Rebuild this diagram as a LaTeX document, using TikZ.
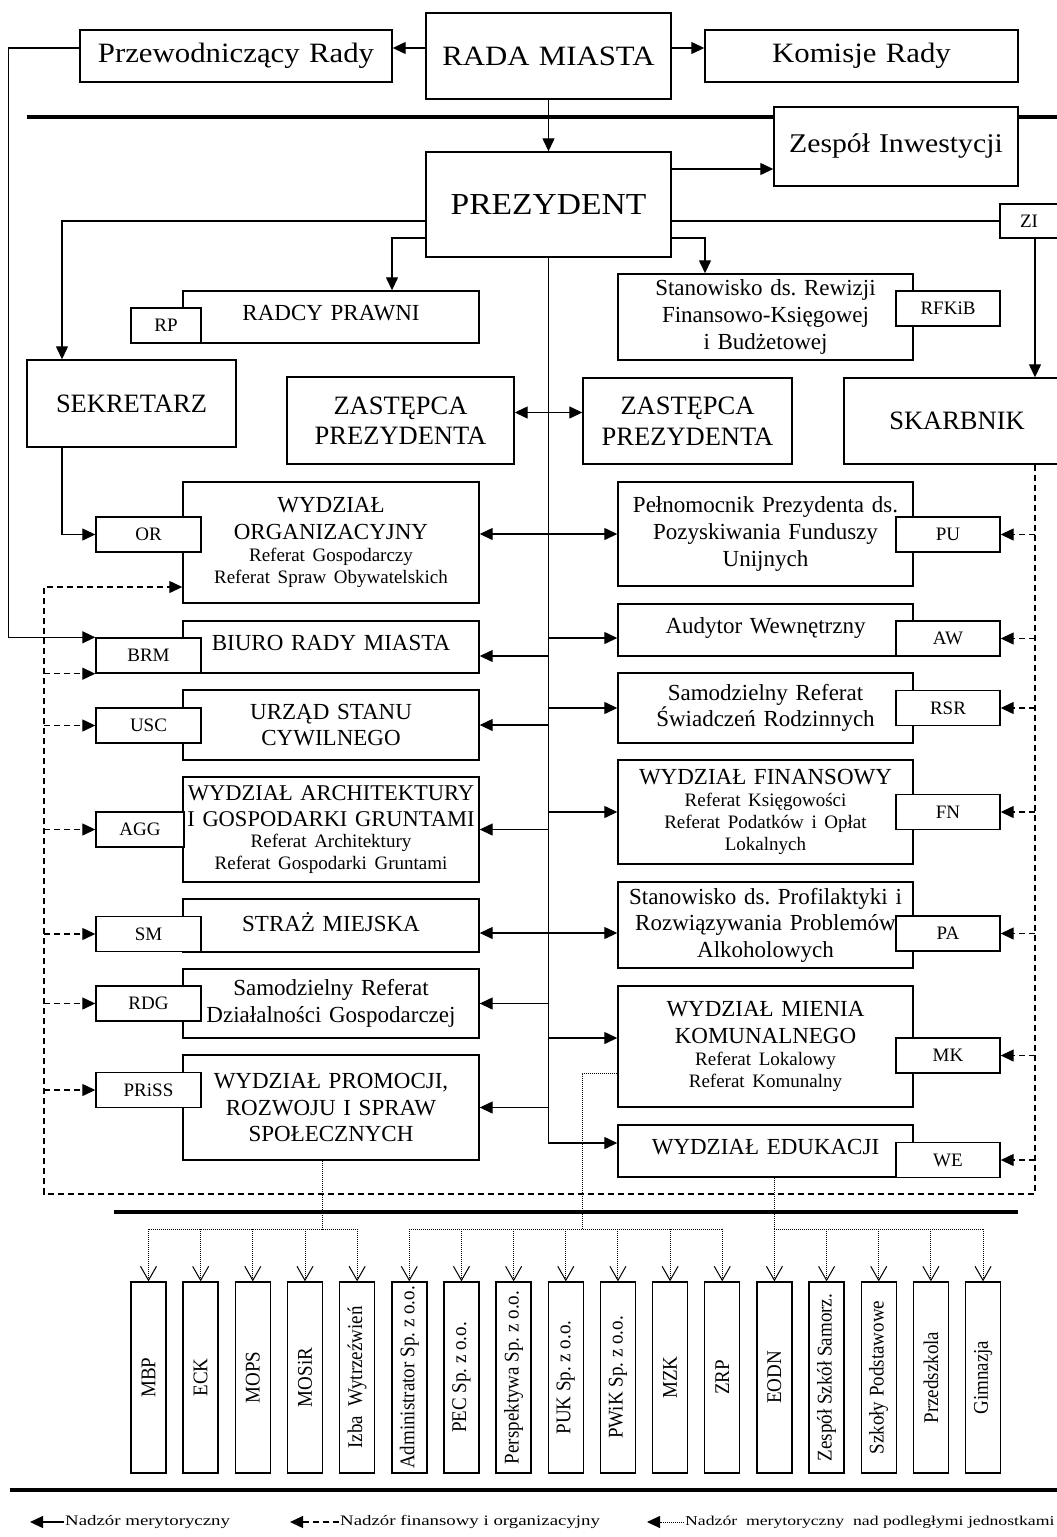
\documentclass[tikz,border=0pt]{standalone}
\usepackage{fontspec}
\setmainfont{Liberation Serif}
\newfontfamily\widefont[FakeStretch=1.1]{Liberation Serif}
\newfontfamily\legendfont[FakeStretch=1.3]{Liberation Serif}
\usetikzlibrary{arrows.meta}
\newcommand{\sizetop}{\widefont\fontsize{28}{32}\selectfont}
\newcommand{\sizebig}{\fontsize{26.5}{30.5}\selectfont}
\newcommand{\sizemid}{\fontsize{23}{26.6}\selectfont}
\newcommand{\sizesub}{\fontsize{19}{21.8}\selectfont}
\newcommand{\sizeleg}{\legendfont\fontsize{14.5}{17}\selectfont}
\frenchspacing

\begin{document}
\begin{tikzpicture}[x=1pt, y=-1pt, >={Triangle[length=13pt,width=12pt]},
  box/.style={draw, line width=1.4pt, fill=white, align=center, inner sep=1pt},
  tagbox/.style={box, font=\sizesub, minimum width=105pt, minimum height=35pt, inner sep=0pt},
  unitbox/.style={draw, line width=1.4pt, fill=white, font=\sizesub, minimum width=35pt, minimum height=191pt, inner sep=0pt},
  upper/.style={text depth=8pt},
  link/.style={line width=1.3pt},
  finlink/.style={line width=1.3pt, dash pattern=on 6pt off 4pt},
  sublink/.style={line width=0.9pt, dash pattern=on 1pt off 1pt}]
\useasboundingbox (0,0) rectangle (1057,1537);

% rada miasta
\node[box, font=\sizetop, text width=310pt, minimum height=52pt] (przew) at (236,56) {Przewodniczący Rady};
\node[box, font=\sizetop, text width=243pt, minimum height=86pt] (rada) at (548.5,56) {RADA MIASTA};
\node[box, font=\sizetop, text width=311pt, minimum height=52pt] (komisje) at (861.5,56) {Komisje Rady};
\draw[line width=4.6pt] (27,117) -- (1060,117);

% prezydent
\node[box, font={\widefont\fontsize{30.5}{34}\selectfont}, text width=243pt, minimum height=105pt] (prez) at (548.5,204.5) {PREZYDENT};
\node[box, font={\widefont\fontsize{27}{31}\selectfont}, text width=242pt, minimum height=79pt] (zespol) at (896,146.5) {Zespół Inwestycji};
\node[box, font=\sizesub, minimum width=58pt, minimum height=34pt, inner sep=0pt] (zi) at (1029,221) {ZI};
\node[box, font=\sizemid, upper, text width=294pt, minimum height=52pt] (radcy) at (331,317) {RADCY PRAWNI};
\node[box, font=\sizemid, text width=293pt, minimum height=86pt] (stanrew) at (765.5,317)
  {Stanowisko ds. Rewizji\\Finansowo-Księgowej\\i Budżetowej};
\node[box, font=\sizebig, text width=207pt, minimum height=87pt] (sekr) at (131.5,403.5) {SEKRETARZ};
\node[box, font=\sizebig, text width=225pt, minimum height=87pt] (zastl) at (400.5,420.5) {ZASTĘPCA\\PREZYDENTA};
\node[box, font=\sizebig, text width=207pt, minimum height=86pt] (zastr) at (687.5,421) {ZASTĘPCA\\PREZYDENTA};
\node[box, font=\sizebig, text width=224pt, minimum height=86pt] (skarb) at (957,421) {SKARBNIK};

% wydzialy, lewa kolumna
\node[box, font=\sizemid, text width=294pt, minimum height=121pt] (wor) at (331,542.5)
  {WYDZIAŁ\\ORGANIZACYJNY\par\sizesub Referat Gospodarczy\\Referat Spraw Obywatelskich\par};
\node[box, font=\sizemid, upper, text width=294pt, minimum height=52pt] (biuro) at (331,647) {BIURO RADY MIASTA};
\node[box, font=\sizemid, text width=294pt, minimum height=70pt] (urzad) at (331,725) {URZĄD STANU\\CYWILNEGO};
\node[box, font=\sizemid, text width=294pt, minimum height=105pt] (arch) at (331,829.5)
  {\fontsize{22.5}{26}\selectfont WYDZIAŁ ARCHITEKTURY\\I GOSPODARKI GRUNTAMI\par\sizesub Referat Architektury\\Referat Gospodarki Gruntami\par};
\node[box, font=\sizemid, upper, text width=294pt, minimum height=53pt] (straz) at (331,925.5) {STRAŻ MIEJSKA};
\node[box, font=\sizemid, text width=294pt, minimum height=69pt] (rdgm) at (331,1003.5)
  {Samodzielny Referat\\Działalności Gospodarczej};
\node[box, font=\sizemid, text width=294pt, minimum height=105pt] (prom) at (331,1107.5)
  {WYDZIAŁ PROMOCJI,\\ROZWOJU I SPRAW\\SPOŁECZNYCH};

% wydzialy, prawa kolumna
\node[box, font=\sizemid, text width=293pt, minimum height=104pt] (pel) at (765.5,534)
  {Pełnomocnik Prezydenta ds.\\Pozyskiwania Funduszy\\Unijnych};
\node[box, font=\sizemid, upper, text width=293pt, minimum height=52pt] (audyt) at (765.5,630) {Audytor Wewnętrzny};
\node[box, font=\sizemid, text width=293pt, minimum height=70pt] (swr) at (765.5,708)
  {Samodzielny Referat\\Świadczeń Rodzinnych};
\node[box, font=\sizemid, text width=293pt, minimum height=104pt] (fin) at (765.5,812)
  {WYDZIAŁ FINANSOWY\par\sizesub Referat Księgowości\\Referat Podatków i Opłat\\Lokalnych\par};
\node[box, font=\sizemid, text width=293pt, minimum height=86pt] (prof) at (765.5,925)
  {Stanowisko ds. Profilaktyki i\\Rozwiązywania Problemów\\Alkoholowych};
\node[box, font=\sizemid, text width=293pt, minimum height=121pt] (mien) at (765.5,1046.5)
  {WYDZIAŁ MIENIA\\KOMUNALNEGO\par\sizesub Referat Lokalowy\\Referat Komunalny\par};
\node[box, font=\sizemid, upper, text width=293pt, minimum height=52pt] (wedu) at (765.5,1151) {WYDZIAŁ EDUKACJI};

% symbole
\node[tagbox, minimum width=70pt] (rp) at (166,325.5) {RP};
\node[tagbox, minimum width=104pt] (rfkib) at (948,308.5) {RFKiB};
\node[tagbox] (or) at (148.5,534.5) {OR};
\node[tagbox] (brm) at (148.5,655.5) {BRM};
\node[tagbox] (usc) at (148.5,725.5) {USC};
\node[tagbox, minimum width=88pt] (agg) at (140,829.5) {AGG};
\node[tagbox] (sm) at (148.5,934) {SM};
\node[tagbox] (rdg) at (148.5,1003.5) {RDG};
\node[tagbox] (priss) at (148.5,1090) {PRiSS};
\node[tagbox, minimum width=104pt] (pu) at (948,534.5) {PU};
\node[tagbox, minimum width=104pt] (aw) at (948,638.5) {AW};
\node[tagbox, minimum width=104pt] (rsr) at (948,708) {RSR};
\node[tagbox, minimum width=104pt] (fn) at (948,812) {FN};
\node[tagbox, minimum width=104pt] (pa) at (948,933.5) {PA};
\node[tagbox, minimum width=104pt] (mk) at (948,1055.5) {MK};
\node[tagbox, minimum width=104pt] (we) at (948,1160) {WE};

% nadzor merytoryczny
\draw[link,->] ([yshift=8pt]rada.west) -- ([yshift=8pt]przew.east);
\draw[link,->] ([yshift=8pt]rada.east) -- ([yshift=8pt]komisje.west);
\draw[link,->] ([yshift=8pt]przew.west) -- ++(-71,0) |- (brm.north west);
\draw[link,->] (rada) -- (prez);
\draw[link,->] (prez.east |- 0,169) -- (zespol.west |- 0,169);
\draw[link,->] (prez.west |- 0,221) -| ([xshift=-69.5pt]sekr.north);
\draw[link,->] (prez.west |- 0,238) -| ([xshift=61pt]radcy.north);
\draw[link,->] (prez.east |- 0,238) -| ([xshift=-60.5pt]stanrew.north);
\draw[link] (prez.east |- zi.west) -- (zi.west);
\draw[link,->] ([xshift=6pt]zi.south) -- ([xshift=6pt]zi.south |- skarb.north);
\draw[link,->] (prez.south) |- ([yshift=8pt]wedu.west);
\draw[link,<->] ([yshift=8pt]zastl.east) -- ([yshift=8pt]zastl.east -| zastr.west);
\draw[link,->] ([xshift=-69.5pt]sekr.south) |- (or.west);
\draw[link,<->] (wor.east |- pel.west) -- (pel.west);
\draw[link,<->] (straz.east |- 0,933) -- (prof.west |- 0,933);
\draw[link,->] (prez.south |- 0,656) -- (biuro.east |- 0,656);
\draw[link,->] (prez.south |- 0,638) -- (audyt.west |- 0,638);
\draw[link,->] (prez.south |- 0,1038) -- (mien.west |- 0,1038);
\foreach \n in {urzad,arch,rdgm,prom}
  \draw[link,->] (prez.south |- \n.east) -- (\n.east);
\foreach \n in {swr,fin}
  \draw[link,->] (prez.south |- \n.west) -- (\n.west);

% nadzor finansowy i organizacyjny
\coordinate (fr) at (1035,1194);
\coordinate (fl) at (44,1194);
\draw[finlink,->] (fr |- skarb.south) -- (fr) -- (fl) |- ([yshift=-44.5pt]wor.west);
\foreach \n in {pu,aw,rsr,fn,pa,mk,we}
  \draw[finlink,->] (fr |- \n.east) -- (\n.east);
\foreach \n in {usc,agg,sm,rdg,priss}
  \draw[finlink,->] (fl |- \n.west) -- (\n.west);
\draw[finlink,->] (fl |- brm.south west) -- (brm.south west);

% jednostki podlegle
\draw[line width=4.6pt] (114,1212) -- (1018,1212);
\foreach \t [count=\i from 0] in {MBP, ECK, MOPS, MOSiR, Izba\ \ Wytrzeźwień, Administrator Sp. z o.o.,
    PEC Sp. z o.o., Perspektywa Sp. z o.o., PUK Sp. z o.o., PWiK Sp. z o.o., MZK, ZRP,
    EODN, Zespół Szkół Samorz., Szkoły Podstawowe, Przedszkola, Gimnazja}
  \node[unitbox] (b\i) at ({148.5+52.16*\i},1377.5) {\rotatebox{90}{\scalebox{1}[1.1]{\t}}};
\coordinate (bus) at (0,1229);
\draw[sublink] ([xshift=-8.5pt]prom.south) -- ([xshift=-8.5pt]prom.south |- bus);
\draw[sublink] ([yshift=-26.5pt]mien.west) -| ([xshift=-35pt]mien.west |- bus);
\draw[sublink] (b12.north |- wedu.south) -- (b12.north |- bus);
\draw[sublink] (b0.north |- bus) -- (b4.north |- bus);
\draw[sublink] (b5.north |- bus) -- (b11.north |- bus);
\draw[sublink] (b12.north |- bus) -- (b16.north |- bus);
\foreach \i in {0,...,16}
  \draw[sublink,-{Straight Barb[length=14pt,width=16pt,line width=1pt]}] (b\i.north |- bus) -- (b\i.north);
\draw[line width=4.6pt] (10,1490) -- (1060,1490);

% legenda
\node[anchor=west, font=\sizeleg, inner sep=1pt] (leg1) at (64,1522) {Nadzór merytoryczny};
\node[anchor=west, font=\sizeleg, inner sep=1pt] (leg2) at (339,1522) {Nadzór finansowy i organizacyjny};
\node[anchor=west, font={\legendfont\fontsize{13.6}{16}\selectfont}, inner sep=1pt] (leg3) at (684,1522)
  {Nadzór\ \ merytoryczny\ \ nad podległymi jednostkami};
\draw[link,->] (leg1.west) -- ++(-34,0);
\draw[finlink,->] (leg2.west) -- ++(-49,0);
\draw[sublink,->] (leg3.west) -- ++(-37,0);
\end{tikzpicture}
\end{document}
